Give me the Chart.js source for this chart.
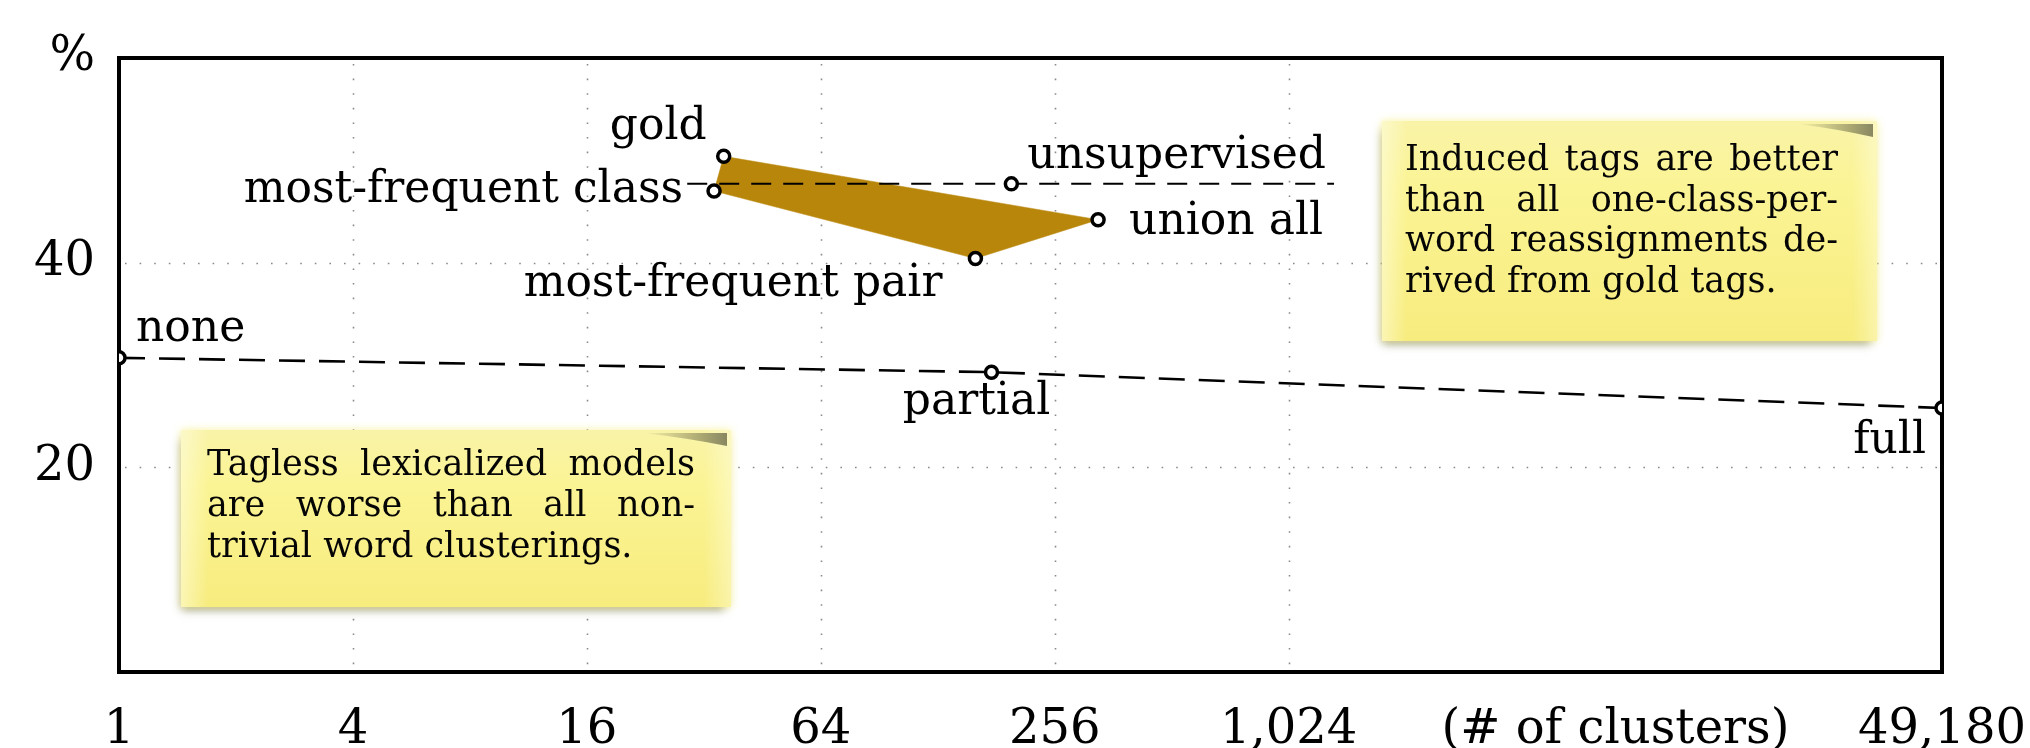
<!DOCTYPE html>
<html>
<head>
<meta charset="utf-8">
<script src="https://cdn.jsdelivr.net/npm/chart.js@4"></script>
<style>
  html, body { margin: 0; padding: 0; background: #ffffff; }
  #wrap { width: 2030px; height: 748px; }
</style>
</head>
<body>
<div id="wrap"><canvas id="c" width="2030" height="748"></canvas></div>
<script>
// ---- data ----
const pointNames    = ['gold', 'most-frequent class', 'unsupervised', 'union all', 'most-frequent pair', 'none', 'partial', 'full'];
const pointClusters = [36, 34, 198, 331, 160, 1, 176, 49180];
const pointScores   = [50.4, 47.0, 47.7, 44.2, 40.4, 30.7, 29.3, 25.8];
const polygonOrder  = ['gold', 'union all', 'most-frequent pair', 'most-frequent class', 'gold'];
const baselineOrder = ['none', 'partial', 'full'];
const refLineClusters = [29, 1340];          // extent of the dashed line through "unsupervised"
const refLineAnchor = 'unsupervised';
const xTickValues = [1, 4, 16, 64, 256, 1024, 7100, 49180];
const xTickLabels = ['1', '4', '16', '64', '256', '1,024', '(# of clusters)', '49,180'];
const xGridValues = [4, 16, 64, 256, 1024];
const yTickValues = [0, 20, 40, 60];
const yTickLabels = ['', '20', '40', '%'];
const yGridValues = [20, 40];
const noteRight = ['Induced tags are better', 'than all one-class-per-', 'word reassignments de-', 'rived from gold tags.'];
const noteLeft  = ['Tagless lexicalized models', 'are worse than all non-', 'trivial word clusterings.'];

// ---- styling ----
const SERIF = '"DejaVu Serif", "Liberation Serif", serif';
const labelStyle = {
  'gold':               { dx: -17, dy: -29, align: 'right' },
  'most-frequent class':{ dx: -31, dy: 0,   align: 'right' },
  'unsupervised':       { dx: 16,  dy: -27, align: 'left' },
  'union all':          { dx: 31,  dy: 3,   align: 'left' },
  'most-frequent pair': { dx: -33, dy: 26,  align: 'right' },
  'none':               { dx: 17,  dy: -28, align: 'left' },
  'partial':            { dx: -15, dy: 30,  align: 'center' },
  'full':               { dx: -16, dy: 34,  align: 'right' }
};
const notes = [
  { x: 1382, y: 121, w: 495, h: 220, lines: noteRight, tx: 1405, tw: 433, ty: 161, lh: 40.5 },
  { x: 181,  y: 430, w: 550, h: 177, lines: noteLeft,  tx: 207,  tw: 488, ty: 466, lh: 41 }
];

const idx = n => pointNames.indexOf(n);
const pt = n => ({ x: pointClusters[idx(n)], y: pointScores[idx(n)] });

const polygonData = polygonOrder.map(pt);
const baselineData = baselineOrder.map(pt);
const refY = pointScores[idx(refLineAnchor)];
const refData = [{ x: refLineClusters[0], y: refY }, pt(refLineAnchor), { x: refLineClusters[1], y: refY }];
const allPoints = pointNames.map(pt);

function drawJustified(ctx, text, x, y, width, justify) {
  const words = text.split(' ');
  if (!justify || words.length < 2) { ctx.textAlign = 'left'; ctx.fillText(text, x, y); return; }
  let total = 0;
  words.forEach(w => total += ctx.measureText(w).width);
  const gap = (width - total) / (words.length - 1);
  let cx = x;
  ctx.textAlign = 'left';
  words.forEach(w => { ctx.fillText(w, cx, y); cx += ctx.measureText(w).width + gap; });
}

function drawNote(ctx, n) {
  ctx.save();
  ctx.shadowColor = 'rgba(60,60,30,0.65)';
  ctx.shadowBlur = 9;
  ctx.shadowOffsetX = -3;
  ctx.shadowOffsetY = 4;
  ctx.fillStyle = '#efe47a';
  ctx.fillRect(n.x + 4, n.y + 6, n.w - 8, n.h - 8);
  ctx.restore();
  ctx.save();
  ctx.shadowColor = 'rgba(250,244,150,0.9)';
  ctx.shadowBlur = 8;
  const g = ctx.createLinearGradient(n.x, n.y, n.x, n.y + n.h);
  g.addColorStop(0, '#f9f3a8');
  g.addColorStop(0.3, '#fbf495');
  g.addColorStop(1, '#f7ec7e');
  ctx.fillStyle = g;
  ctx.fillRect(n.x, n.y, n.w, n.h);
  ctx.restore();
  ctx.save();
  const g2 = ctx.createLinearGradient(n.x, 0, n.x + n.w, 0);
  g2.addColorStop(0, 'rgba(255,255,235,0.5)');
  g2.addColorStop(0.05, 'rgba(255,255,235,0)');
  g2.addColorStop(0.95, 'rgba(255,255,235,0)');
  g2.addColorStop(1, 'rgba(255,255,235,0.4)');
  ctx.fillStyle = g2;
  ctx.fillRect(n.x, n.y, n.w, n.h);
  const cw = n.w * 0.16, ch = 14;
  const g3 = ctx.createLinearGradient(n.x + n.w - cw, 0, n.x + n.w, 0);
  g3.addColorStop(0, 'rgba(90,90,60,0)');
  g3.addColorStop(1, 'rgba(90,90,60,0.75)');
  ctx.fillStyle = g3;
  ctx.beginPath();
  ctx.moveTo(n.x + n.w - cw, n.y + 3);
  ctx.lineTo(n.x + n.w - 4, n.y + 3);
  ctx.lineTo(n.x + n.w - 4, n.y + ch + 2);
  ctx.quadraticCurveTo(n.x + n.w - cw * 0.5, n.y + 8, n.x + n.w - cw, n.y + 3);
  ctx.fill();
  ctx.restore();
  ctx.save();
  ctx.fillStyle = '#050505';
  ctx.font = '35px ' + SERIF;
  ctx.textBaseline = 'middle';
  n.lines.forEach((l, i) => drawJustified(ctx, l, n.tx, n.ty + i * n.lh, n.tw, i < n.lines.length - 1));
  ctx.restore();
}

const decor = {
  id: 'decor',
  beforeDatasetsDraw(chart) {
    const { ctx, chartArea: a, scales: { x, y } } = chart;
    ctx.save();
    ctx.strokeStyle = '#8a8a8a';
    ctx.lineWidth = 1.6;
    ctx.setLineDash([1.6, 13]);
    xGridValues.forEach(v => {
      const px = Math.round(x.getPixelForValue(v)) + 0.5;
      ctx.beginPath(); ctx.moveTo(px, a.top + 6); ctx.lineTo(px, a.bottom); ctx.stroke();
    });
    yGridValues.forEach(v => {
      const py = Math.round(y.getPixelForValue(v)) + 0.5;
      ctx.beginPath(); ctx.moveTo(a.left + 6, py); ctx.lineTo(a.right, py); ctx.stroke();
    });
    ctx.restore();
    notes.forEach(n => drawNote(ctx, n));
    ctx.save();
    ctx.strokeStyle = '#000';
    ctx.lineWidth = 4;
    ctx.strokeRect(a.left, a.top, a.right - a.left, a.bottom - a.top);
    ctx.restore();
  },
  afterDatasetsDraw(chart) {
    const { ctx, scales: { x, y } } = chart;
    ctx.save();
    ctx.fillStyle = '#000';
    ctx.font = '44px ' + SERIF;
    ctx.textBaseline = 'middle';
    pointNames.forEach((n, i) => {
      const s = labelStyle[n];
      ctx.textAlign = s.align;
      ctx.fillText(n, x.getPixelForValue(pointClusters[i]) + s.dx, y.getPixelForValue(pointScores[i]) + s.dy);
    });
    ctx.restore();
  }
};

new Chart(document.getElementById('c'), {
  type: 'scatter',
  data: {
    datasets: [
      { label: 'points', data: allPoints, order: 0, showLine: false,
        pointRadius: 6, pointHoverRadius: 6, pointBorderWidth: 3.5,
        pointBorderColor: '#000', pointBackgroundColor: '#fff' },
      { label: 'baseline', data: baselineData, order: 1, showLine: true, fill: false,
        borderColor: '#000', borderWidth: 2.6, borderDash: [26, 14], pointRadius: 0 },
      { label: 'reference', data: refData, order: 1, showLine: true, fill: false,
        borderColor: '#000', borderWidth: 2, borderDash: [20, 12], pointRadius: 0 },
      { label: 'polygon', data: polygonData, order: 2, showLine: true, fill: 'shape',
        backgroundColor: '#b8860b', borderColor: '#b8860b', borderWidth: 0.5, pointRadius: 0 }
    ]
  },
  options: {
    responsive: false,
    animation: false,
    events: [],
    layout: { padding: { left: 0, right: 88, top: 58, bottom: 0 } },
    plugins: { legend: { display: false }, tooltip: { enabled: false } },
    scales: {
      x: {
        type: 'logarithmic', min: 1, max: 49180,
        grid: { display: false, drawTicks: false }, border: { display: false },
        afterBuildTicks: s => { s.ticks = xTickValues.map(v => ({ value: v })); },
        afterFit: s => { s.height = 76; s.paddingLeft = 0; s.paddingRight = 0; },
        ticks: { autoSkip: false, maxRotation: 0, minRotation: 0, padding: 30, color: '#000',
                 font: { family: SERIF, size: 48 },
                 callback: (v, i) => xTickLabels[i] }
      },
      y: {
        type: 'linear', min: 0, max: 60,
        grid: { display: false, drawTicks: false }, border: { display: false },
        afterBuildTicks: s => { s.ticks = yTickValues.map(v => ({ value: v })); },
        afterFit: s => { s.width = 119; s.paddingTop = 0; s.paddingBottom = 0; },
        ticks: { autoSkip: false, padding: 24, color: '#000',
                 font: { family: SERIF, size: 48 },
                 callback: (v, i) => yTickLabels[i] }
      }
    }
  },
  plugins: [decor]
});
</script>
</body>
</html>
